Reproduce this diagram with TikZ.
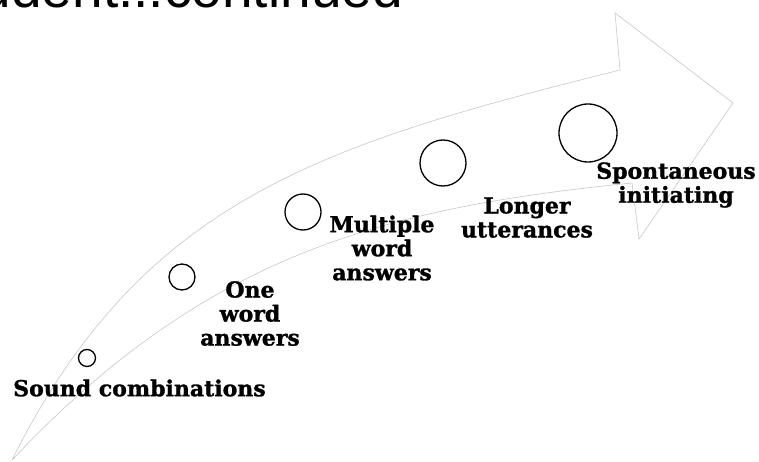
\documentclass[tikz,border=0pt]{standalone}
\usepackage{fontspec}
\setmainfont{DejaVu Serif}[BoldFeatures={FakeBold=1.3}]
\newfontfamily\titlefont{Liberation Sans}
\begin{document}
\begin{tikzpicture}[x=1pt,y=-1pt,
  outline/.style={draw=black!22,line width=0.6pt},
  dot/.style={circle,draw=black,line width=1.3pt,inner sep=0pt},
  lbl/.style={align=center,inner sep=0pt,font=\bfseries\fontsize{22}{24}\selectfont},
  ttl/.style={inner sep=0pt,font=\titlefont\fontsize{55}{60}\selectfont}]
\useasboundingbox (0,0) rectangle (759,462);
\clip (0,0) rectangle (759,462);
% arrow outline
\coordinate (tail) at (12,460);
\coordinate (nu) at (620,70);
\coordinate (tt) at (615,13);
\coordinate (tip) at (733,103);
\coordinate (tb) at (639,239);
\coordinate (nl) at (632,183);
\draw[outline] (tail) .. controls (142,200) and (320,145) .. (nu)
  -- (tt) -- (tip) -- (tb) -- (nl)
  .. controls (382,208) and (205,255) .. (tail);
% title
\node[ttl,anchor=base east] (title) at (403,8) {Student...continued};
% circles
\node[dot,minimum size=17pt] (c1) at (87,358) {};
\node[dot,minimum size=26pt] (c2) at (182,277) {};
\node[dot,minimum size=36pt] (c3) at (303,212) {};
\node[dot,minimum size=46pt] (c4) at (443,163) {};
\node[dot,minimum size=58pt] (c5) at (588,133) {};
% labels
\node[lbl] (l1) at (139.5,388) {Sound combinations};
\node[lbl] (l2) at (250,313.5) {One\\word\\answers};
\node[lbl] (l3) at (382,248) {Multiple\\word\\answers};
\node[lbl] (l4) at (527,217.5) {Longer\\utterances};
\node[lbl] (l5) at (676,185) {Spontaneous\\initiating};
\end{tikzpicture}
\end{document}
